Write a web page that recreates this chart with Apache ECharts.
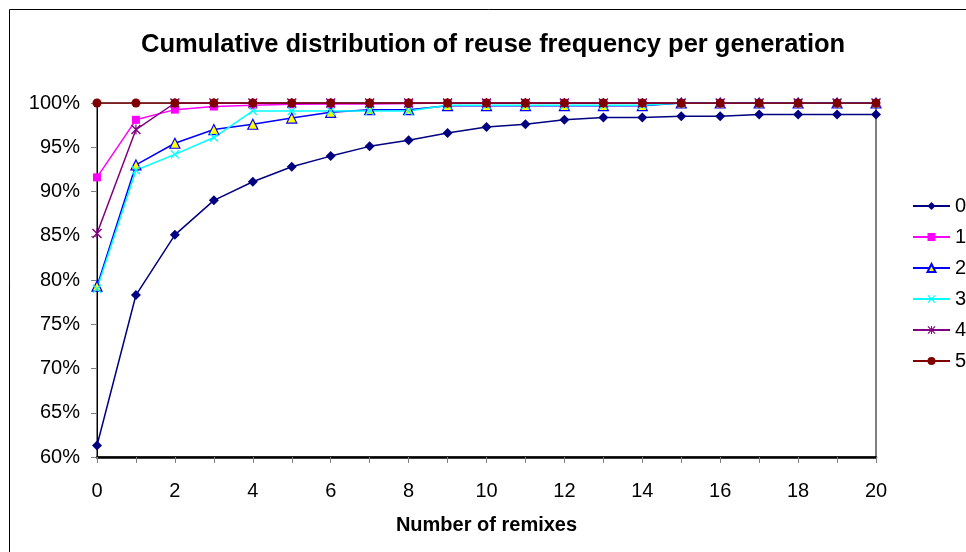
<!DOCTYPE html>
<html>
<head>
<meta charset="utf-8">
<script src="https://cdn.jsdelivr.net/npm/echarts@6/dist/echarts.min.js"></script>
<style>
html,body{margin:0;padding:0;background:#fff;}
#chart{width:966px;height:552px;}
</style>
</head>
<body>
<div id="chart"></div>
<script>
var categories = ['0','1','2','3','4','5','6','7','8','9','10','11','12','13','14','15','16','17','18','19','20'];
var seriesNames = ['0','1','2','3','4','5'];
var gen0 = [61.3, 78.3, 85.1, 89.0, 91.1, 92.8, 94.0, 95.1, 95.8, 96.6, 97.3, 97.6, 98.1, 98.35, 98.35, 98.5, 98.5, 98.7, 98.7, 98.7, 98.7];
var gen1 = [91.6, 98.1, 99.25, 99.6, 99.75, 99.85, 99.9, 99.9, 99.95, 100, 100, 100, 100, 100, 100, 100, 100, 100, 100, 100, 100];
var gen2 = [79.3, 93.0, 95.45, 97.0, 97.6, 98.3, 98.95, 99.25, 99.25, 99.7, 99.7, 99.7, 99.7, 99.7, 99.7, 100, 100, 100, 100, 100, 100];
var gen3 = [79.0, 92.4, 94.2, 96.1, 99.1, 99.1, 99.1, 99.1, 99.1, 99.75, 99.75, 99.75, 99.75, 99.75, 99.75, 100, 100, 100, 100, 100, 100];
var gen4 = [85.25, 97.0, 100, 100, 100, 100, 100, 100, 100, 100, 100, 100, 100, 100, 100, 100, 100, 100, 100, 100, 100];
var gen5 = [100, 100, 100, 100, 100, 100, 100, 100, 100, 100, 100, 100, 100, 100, 100, 100, 100, 100, 100, 100, 100];

var FONT = 'Arial, "Liberation Sans", sans-serif';
var xPath = 'path://M0,1L1,0L5,4L9,0L10,1L6,5L10,9L9,10L5,6L1,10L0,9L4,5Z';
var starPath = 'path://M0,1L1,0L5,4L9,0L10,1L6,5L10,9L9,10L5,6L1,10L0,9L4,5Z M4.4,0L5.6,0L5.6,10L4.4,10Z';

function mk(name, data, color, symbol, size, fill) {
  return {
    name: name, type: 'line', data: data,
    symbol: symbol, symbolSize: size, showSymbol: true,
    lineStyle: {color: color, width: 1.5},
    itemStyle: {color: fill || color, borderColor: color, borderWidth: fill ? 1.2 : 0},
    emphasis: {disabled: true},
    z: 2
  };
}

var chart = echarts.init(document.getElementById('chart'), null, {renderer: 'canvas'});
chart.setOption({
  animation: false,
  backgroundColor: '#fff',
  graphic: [{
    type: 'rect', shape: {x: 9.5, y: 9.5, width: 1000, height: 600},
    style: {fill: 'none', stroke: '#000', lineWidth: 1}, silent: true
  }],
  title: {
    text: 'Cumulative distribution of reuse frequency per generation',
    left: 136, top: 27,
    textStyle: {fontFamily: FONT, fontSize: 25.5, fontWeight: 'bold', color: '#000'}
  },
  legend: {
    orient: 'vertical', left: 907, top: 191,
    itemWidth: 37, itemHeight: 10, itemGap: 11,
    data: seriesNames,
    textStyle: {fontFamily: FONT, fontSize: 20, color: '#000', lineHeight: 20}
  },
  grid: {left: 97, right: 90, top: 103, bottom: 95, show: true, borderColor: '#000', borderWidth: 1, backgroundColor: 'transparent'},
  xAxis: {
    type: 'category', data: categories, boundaryGap: false,
    name: 'Number of remixes', nameLocation: 'middle', nameGap: 58,
    nameTextStyle: {fontFamily: FONT, fontSize: 20, fontWeight: 'bold', color: '#000'},
    axisLine: {lineStyle: {color: '#000', width: 2.5}},
    axisTick: {show: true, interval: 0, inside: false, length: 6, lineStyle: {color: '#808080', width: 1}},
    axisLabel: {interval: 1, margin: 24, fontFamily: FONT, fontSize: 20, color: '#000'},
    splitLine: {show: false}
  },
  yAxis: {
    type: 'value', min: 60, max: 100, interval: 5,
    axisLine: {show: true, lineStyle: {color: '#000', width: 1}},
    axisTick: {show: true, inside: false, length: 6, lineStyle: {color: '#808080', width: 1}},
    axisLabel: {formatter: '{value}%', margin: 17, fontFamily: FONT, fontSize: 20, color: '#000'},
    splitLine: {show: false}
  },
  series: [
    mk(seriesNames[0], gen0, '#000080', 'diamond', 10),
    mk(seriesNames[1], gen1, '#FF00FF', 'rect', 8),
    mk(seriesNames[2], gen2, '#0000FF', 'triangle', 10, '#FFFF00'),
    mk(seriesNames[3], gen3, '#00FFFF', xPath, 9),
    mk(seriesNames[4], gen4, '#800080', starPath, 10),
    mk(seriesNames[5], gen5, '#800000', 'circle', 9)
  ]
});
</script>
</body>
</html>
